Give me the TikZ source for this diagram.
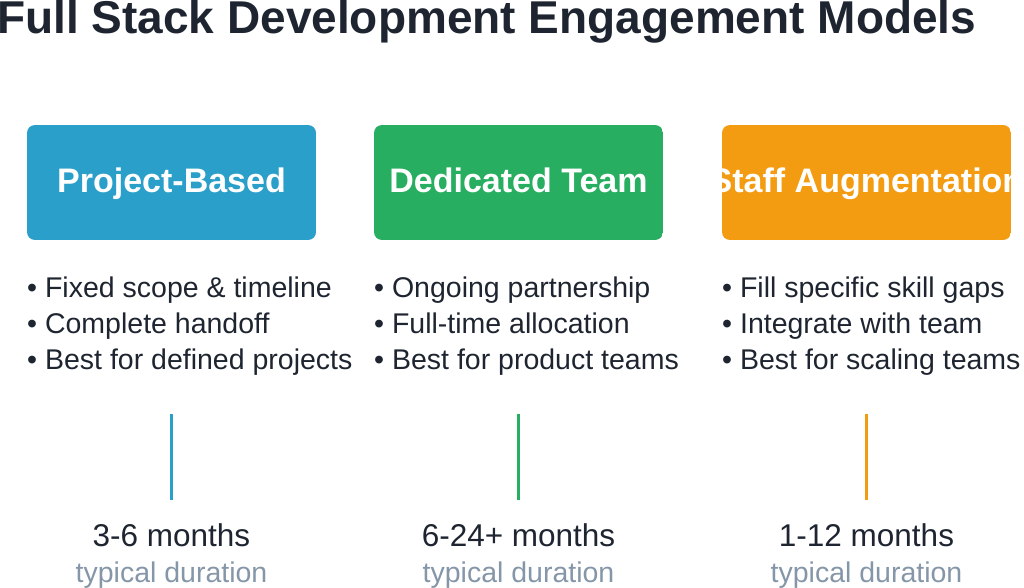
\documentclass[tikz,border=0pt]{standalone}
\usepackage{fontspec}
\setmainfont{Liberation Sans}
\definecolor{cblue}{HTML}{2A9FC9}
\definecolor{cgreen}{HTML}{27AE60}
\definecolor{corange}{HTML}{F39C12}
\definecolor{dark}{HTML}{1E2530}
\definecolor{grayt}{HTML}{8596A8}
\begin{document}
\begin{tikzpicture}[x=1pt,y=-1pt,
  boxtext/.style={anchor=base,inner sep=0pt,text=white,font=\fontsize{34}{40}\selectfont\bfseries},
  bul/.style={anchor=base west,text=dark,inner sep=0pt,font=\fontsize{28.5}{34}\selectfont},
  vline/.style={line width=3pt},
  months/.style={anchor=base,inner sep=0pt,text=dark,font=\fontsize{31.5}{36}\selectfont},
  dur/.style={anchor=base,inner sep=0pt,text=grayt,font=\fontsize{28.5}{34}\selectfont}]
\useasboundingbox (0,0) rectangle (1024,588);
\node[anchor=base west,inner sep=0pt,text=dark,font=\fontsize{46}{52}\selectfont\bfseries] (title) at (-3,34) {Full Stack Development Engagement Models};
\foreach \n/\x/\c/\t/\a/\b/\cc/\m in {
  p/27/cblue/Project-Based/Fixed scope \& timeline/Complete handoff/Best for defined projects/3-6 months,
  d/374/cgreen/Dedicated Team/Ongoing partnership/Full-time allocation/Best for product teams/6-24+ months,
  s/722/corange/Staff Augmentation/Fill specific skill gaps/Integrate with team/Best for scaling teams/1-12 months}{
  \begin{scope}
    \path[clip,rounded corners=8pt] (\x,125) rectangle ++(289,115);
    \fill[\c] (\x,125) rectangle ++(289,115);
    \node[boxtext] (\n box) at (\x+144.5,193) {\t};
  \end{scope}
  \node[bul] (\n a) at (\x,297) {• \a};
  \node[bul] (\n b) at (\x,333) {• \b};
  \node[bul] (\n c) at (\x,369) {• \cc};
  \coordinate (\n top) at (\x+144.5,414);
  \coordinate (\n bot) at (\x+144.5,500);
  \draw[vline,\c] (\n top) -- (\n bot);
  \node[months] (\n months) at (\x+144.5,546) {\m};
  \node[dur] (\n dur) at (\x+144.5,582) {typical duration};
}
\end{tikzpicture}
\end{document}
